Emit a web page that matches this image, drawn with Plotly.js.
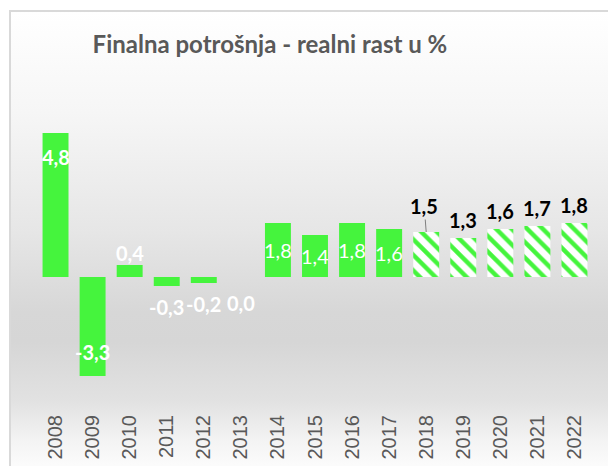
<!DOCTYPE html>
<html>
<head>
<meta charset="utf-8">
<script src="https://cdn.plot.ly/plotly-3.0.1.min.js"></script>
<style>
html,body{margin:0;padding:0;background:#fff;}
#wrap{position:relative;width:608px;height:466px;overflow:hidden;}
#frame{position:absolute;left:9px;top:10px;width:640px;height:500px;border-left:2px solid #d9d9d9;border-top:2px solid #d9d9d9;
background:linear-gradient(to bottom,#ffffff 0px,#f6f6f6 100px,#e6e6e6 220px,#d7d7d7 300px,#d6d6d6 330px,#e2e2e2 390px,#f4f4f4 430px,#fcfcfc 456px);}
#chart{position:absolute;left:0;top:0;width:608px;height:466px;}
</style>
</head>
<body>
<div id="wrap"><div id="frame"></div><div id="chart"></div></div>
<script>
const years = ['2008','2009','2010','2011','2012','2013','2014','2015','2016','2017','2018','2019','2020','2021','2022'];
const actualYears = ['2008','2009','2010','2011','2012','2013','2014','2015','2016','2017'];
const actualValues = [4.8,-3.3,0.4,-0.3,-0.2,0.0,1.8,1.4,1.8,1.6];
const forecastYears = ['2018','2019','2020','2021','2022'];
const forecastValues = [1.5,1.3,1.6,1.7,1.8];
const titleText = 'Finalna potrošnja - realni rast u %';

const green = '#45F43D';
const fmt = v => v.toFixed(1).replace('.', ',');
const pos = y => years.indexOf(y);

const traces = [
  {type:'bar', x:actualYears.map(pos), y:actualValues, marker:{color:green}},
  {type:'bar', x:forecastYears.map(pos), y:forecastValues,
   marker:{color:'#ffffff', pattern:{shape:'\\', fgcolor:green, bgcolor:'#ffffff', size:11, solidity:0.4}}}
];

const labelFont = {family:'Lato, Open Sans, sans-serif', size:20, color:'#ffffff'};
const annotations = [];
actualValues.forEach((v,i)=>{
  let a = {x:pos(actualYears[i]), xref:'x', yref:'y', showarrow:false, text:fmt(v),
           font:Object.assign({}, labelFont), yanchor:'middle'};
  if (i===0) { a.y=v; a.yshift=-24; a.font.weight='bold'; }
  else if (i===1) { a.y=v; a.yshift=24; a.font.weight='bold'; }
  else if (v>=1) { a.y=v/2; }
  else if (v>0) { a.y=v; a.yshift=12; a.font.weight='bold'; }
  else { a.y=v; a.yshift=-21; a.font.weight='bold'; }
  if (v===0) { a.yshift=-26; }
  annotations.push(a);
});
forecastValues.forEach((v,i)=>{
  let a = {x:pos(forecastYears[i]), xref:'x', y:v, yref:'y', text:fmt(v),
           font:{family:'Lato, Open Sans, sans-serif', size:20, color:'#000000', weight:'bold'}};
  if (i===0) {
    Object.assign(a,{showarrow:true, arrowhead:0, arrowwidth:1, arrowcolor:'#7f7f7f', ax:-2, ay:-26});
  } else {
    Object.assign(a,{showarrow:false, yanchor:'middle', yshift:18});
  }
  annotations.push(a);
});

const layout = {
  width:608, height:466,
  paper_bgcolor:'rgba(0,0,0,0)', plot_bgcolor:'rgba(0,0,0,0)',
  margin:{l:37, r:15, t:112, b:66},
  title:{text:titleText, x:0.444, xref:'container', xanchor:'center', y:0.905, yref:'container', yanchor:'middle',
         font:{family:'Lato, Open Sans, sans-serif', size:24, color:'#595959', weight:'bold'}},
  showlegend:false,
  barmode:'relative',
  bargap:0.3,
  xaxis:{type:'linear', range:[-0.5, years.length-0.5], tickmode:'array',
         tickvals:years.map((y,i)=>i), ticktext:years, tickangle:-90,
         tickfont:{family:'Liberation Sans, Arial, sans-serif', size:20, color:'#595959'},
         showgrid:false, zeroline:false, showline:false, ticks:'', ticklabelstandoff:10},
  yaxis:{range:[-4.1,5.5], visible:false, showgrid:false, zeroline:false},
  annotations:annotations
};
Plotly.newPlot('chart', traces, layout, {displayModeBar:false, staticPlot:true});
</script>
</body>
</html>
